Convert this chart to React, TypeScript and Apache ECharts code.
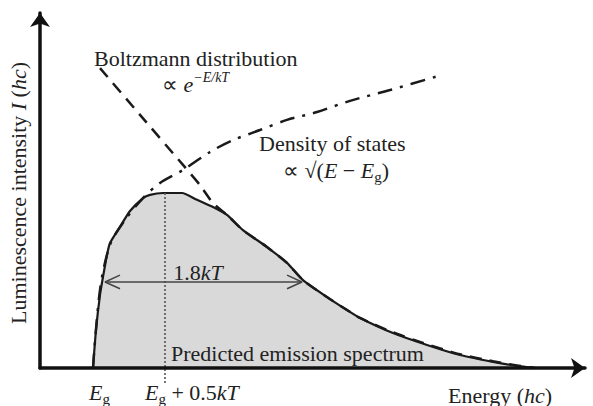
import React, { useEffect, useRef } from "react";
import * as echarts from "echarts";

// Energy (arbitrary units) vs luminescence intensity (arbitrary units)
const emissionSpectrum: [number, number][] = [
  [10.6, 0], [11.2, 10.6], [12, 20.3], [12.6, 25.3], [13.4, 31.4], [14, 34.7],
  [16, 39.2], [18, 43.6], [20.6, 47.2], [22, 48.1], [24.6, 48.6], [28.4, 48.6],
  [31.4, 46.7], [34.6, 44.7], [37.4, 42.5], [40.6, 38.3], [45.4, 33.6], [49.4, 29.2],
  [52.6, 24.4], [57.4, 19.7], [61.4, 16.1], [64, 13.9], [70.6, 9.7], [77.4, 6.4],
  [84, 3.6], [90.6, 1.7], [95.4, 0.6], [99, 0],
];
const boltzmann: [number, number][] = [
  [12, 83.3], [20, 70.3], [28.6, 56.4], [32, 50.8], [34.6, 45.8], [37.4, 42.5],
  [40.6, 38.3], [45.4, 33.6], [49.4, 29.2], [52.6, 24.4], [57.4, 19.7], [61.4, 16.1],
  [64, 13.9], [70.6, 9.9], [77.4, 6.6], [84, 3.8], [90.6, 1.9], [95.4, 0.7], [99, 0],
];
const densityOfStates: [number, number][] = [
  [10.6, 0], [12, 21.7], [14, 34.2], [17, 41.1], [20.6, 47.2], [24, 51.4],
  [28.6, 55], [34, 60], [38.6, 63.3], [44, 66.1], [49.4, 68.9], [55.4, 71.1],
  [62, 74.2], [70, 77.2], [80.4, 81.4],
];
const peakMarker: [number, number][] = [[25, -4.2], [25, 48.6]];
const widthArrow: [number, number][] = [[13, 23.9], [52.4, 23.9]];
const arrowHeadLeft: [number, number][] = [[16, 25.8], [13, 23.9], [16, 22]];
const arrowHeadRight: [number, number][] = [[49.4, 25.8], [52.4, 23.9], [49.4, 22]];

const FONT = "Liberation Serif";
const TXT = "#222";

export default function App() {
  const ref = useRef<HTMLDivElement>(null);
  useEffect(() => {
    if (!ref.current) return;
    const chart = echarts.init(ref.current, null, { renderer: "svg" });
    const axisBase = {
      axisTick: { show: false },
      axisLabel: { show: false },
      splitLine: { show: false },
      z: 5,
    };
    const normal = { fontFamily: FONT, fontSize: 22, color: TXT, lineHeight: 28 };
    const ital = { ...normal, fontStyle: "italic" };
    const sub = { fontFamily: FONT, fontSize: 15, color: TXT, lineHeight: 17, verticalAlign: "bottom" };
    const sup = { fontFamily: FONT, fontSize: 14, color: TXT, lineHeight: 14, verticalAlign: "top", fontStyle: "italic" };
    const rich = { n: normal, i: ital, s: sub, p: sup };
    const txt = (x: number, y: number, text: string, align = "left", extra: any = {}) => ({
      type: "text",
      x,
      y,
      z: 100,
      ...extra,
      style: {
        text,
        fontFamily: FONT,
        fontSize: 22,
        fill: TXT,
        align,
        verticalAlign: "middle",
        rich,
      },
    });
    chart.setOption({
      animation: false,
      backgroundColor: "#ffffff",
      grid: { left: 40, top: 13, width: 545, height: 355 },
      xAxis: {
        type: "value",
        min: 0,
        max: 109,
        ...axisBase,
        axisLine: {
          show: true,
          symbol: ["none", "arrow"],
          symbolSize: [15, 14],
          lineStyle: { color: "#111", width: 3.5 },
        },
      },
      yAxis: {
        type: "value",
        min: 0,
        max: 98.6,
        ...axisBase,
        axisLine: {
          show: true,
          symbol: ["none", "arrow"],
          symbolSize: [15, 14],
          lineStyle: { color: "#111", width: 3.5 },
        },
      },
      series: [
        {
          type: "line",
          data: emissionSpectrum,
          smooth: 0.2,
          showSymbol: false,
          lineStyle: { color: "#1a1a1a", width: 2.2 },
          areaStyle: { color: "#d9d9d9", opacity: 1 },
          z: 2,
        },
        {
          type: "line",
          data: peakMarker,
          showSymbol: false,
          clip: false,
          lineStyle: { color: "#555", width: 1.6, type: [2, 2] },
          z: 3,
        },
        {
          type: "line",
          data: boltzmann,
          smooth: 0.2,
          showSymbol: false,
          lineStyle: { color: "#1a1a1a", width: 2.5, type: [12, 8] },
          z: 4,
        },
        {
          type: "line",
          data: densityOfStates,
          smooth: 0.3,
          showSymbol: false,
          lineStyle: { color: "#1a1a1a", width: 2.5, type: [15, 8, 3, 8] },
          z: 4,
        },
        {
          type: "line",
          data: widthArrow,
          showSymbol: false,
          lineStyle: { color: "#444", width: 1.5 },
          z: 5,
        },
        {
          type: "line",
          data: arrowHeadLeft,
          showSymbol: false,
          lineStyle: { color: "#444", width: 1.5 },
          z: 5,
        },
        {
          type: "line",
          data: arrowHeadRight,
          showSymbol: false,
          lineStyle: { color: "#444", width: 1.5 },
          z: 5,
        },
      ],
      graphic: [
        txt(94, 58, "Boltzmann distribution"),
        txt(162, 84, "{n|∝ }{i|e}{p|−E/kT}"),
        txt(259, 143, "Density of states"),
        txt(283, 170, "{n|∝ √(}{i|E}{n| − }{i|E}{s|g}{n|)}"),
        txt(198, 272, "{n|1.8}{i|kT}", "center"),
        txt(171, 353, "Predicted emission spectrum"),
        txt(89, 392, "{i|E}{s|g}"),
        txt(145, 392, "{i|E}{s|g}{n| + 0.5}{i|kT}"),
        txt(448, 395, "{n|Energy (}{i|hc}{n|)}"),
        txt(18, 193, "{n|Luminescence intensity }{i|I}{n| (}{i|hc}{n|)}", "center", { rotation: Math.PI / 2 }),
      ],
    });
    return () => chart.dispose();
  }, []);
  return <div ref={ref} style={{ width: 593, height: 406, position: "absolute", left: 0, top: 0 }} />;
}
